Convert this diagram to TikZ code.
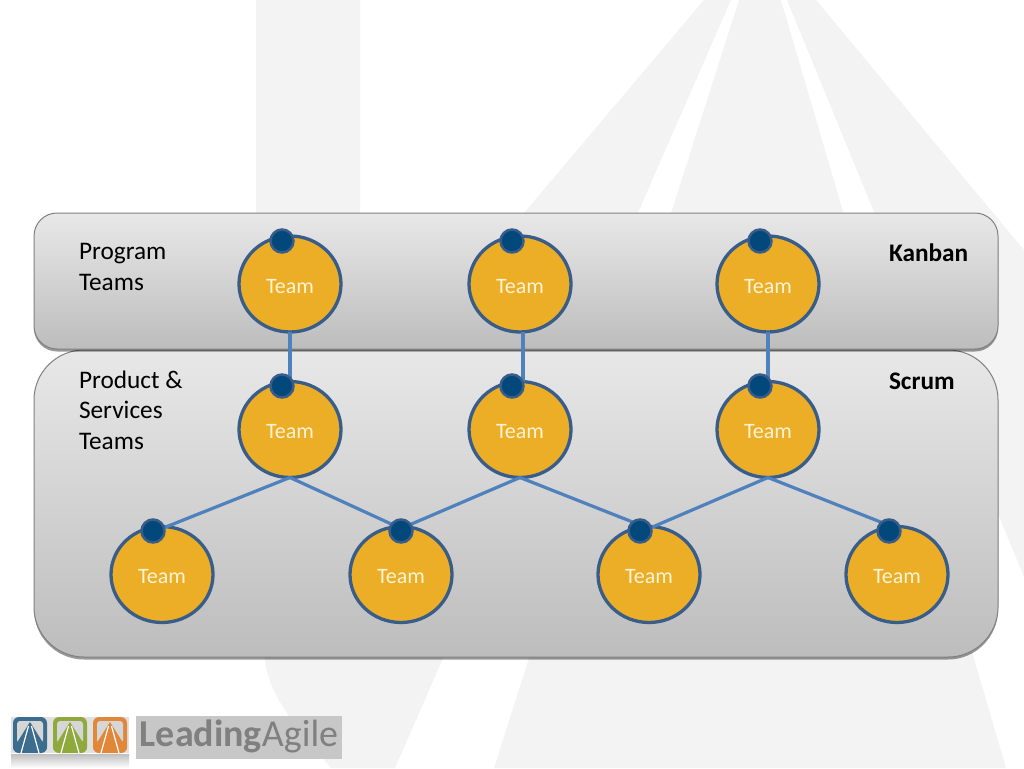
\documentclass[tikz,border=0pt]{standalone}
\usepackage{fontspec}
\setmainfont{Carlito}
\usetikzlibrary{
  positioning,
  shapes.geometric,
  shadows
}
\definecolor{roadgray}{RGB}{243,243,243}
\definecolor{teamfill}{RGB}{235,174,38}
\definecolor{teamline}{RGB}{56,93,138}
\definecolor{dotfill}{RGB}{2,72,122}
\definecolor{linkblue}{RGB}{79,129,189}
\definecolor{teamtext}{RGB}{253,243,214}
\definecolor{logotext}{RGB}{128,128,128}
\definecolor{logoblue}{RGB}{60,109,142}
\definecolor{logogreen}{RGB}{143,169,60}
\definecolor{logoorange}{RGB}{224,135,58}

\begin{document}
\begin{tikzpicture}[
  x=1pt, y=-1pt,
  every node/.style={inner sep=0, outer sep=0},
  panel/.style={draw=black!50, line width=1pt, top color=black!9, bottom color=black!26,
                drop shadow={shadow xshift=0pt, shadow yshift=-2.5pt, opacity=0.4, fill=black},
                minimum width=964pt},
  team/.style={ellipse, draw=teamline, line width=3.3pt, fill=teamfill, text=teamtext,
               minimum width=102pt, minimum height=96pt, text height=20pt, text depth=2pt,
               font=\fontsize{22}{22}\selectfont},
  dot/.style={circle, draw=teamline, line width=2.5pt, fill=dotfill, minimum size=23pt},
  link/.style={draw=linkblue, line width=3.2pt},
  label/.style={anchor=west, align=left, font=\fontsize{25.3}{30.6}\selectfont},
  tag/.style={anchor=west, font=\fontsize{25.3}{25}\selectfont\bfseries}
]
\useasboundingbox (0,0) rectangle (1024,768);
\fill[white] (0,0) rectangle (1024,768);

% Background roads
\fill[roadgray] (256,0) -- (360,0) -- (360,407) -- (704,0) -- (731,0) -- (395,768) -- (331,768)
  .. controls (300,730) and (270,700) .. (265,660) -- (256,590) -- cycle;
\fill[roadgray] (739,0) -- (781,0) -- (1006,768) -- (494,768) -- cycle;
\fill[roadgray] (787,0) -- (816,0) -- (1024,250) -- (1024,577) -- cycle;

% Panels
\node[panel, rounded corners=50pt, minimum height=307pt] (scrumpanel) at (516,503.5) {};
\node[panel, rounded corners=23pt, minimum height=136pt] (kanbanpanel) at (516,281) {};

% Panel labels
\node[label] (programlabel) at (79,267) {Program\\Teams};
\node[label] (productlabel) at (79,410) {Product \&\\Services\\Teams};
\node[tag] (kanbanlabel) at (889,252.5) {Kanban};
\node[tag] (scrumlabel) at (889,381.5) {Scrum};

% Team circles
\foreach \n/\x in {1/290, 2/520, 3/768} {
  \node[team] (top\n) at (\x,284) {Team};
  \node[team] (mid\n) at (\x,429.5) {Team};
}
\foreach \n/\x in {1/162, 2/401, 3/649, 4/897} {
  \node[team] (low\n) at (\x,574.5) {Team};
}

% Links
\draw[link] (top1.south) -- (mid1.north);
\draw[link] ([xshift=3pt]top2.south) -- ([xshift=3pt]mid2.north);
\draw[link] (top3.south) -- (mid3.north);
\foreach \a/\b in {1/1, 1/2, 2/2, 2/3, 3/3, 3/4} {
  \draw[link] (mid\a.south) -- ([yshift=-2pt]low\b.north);
}

% Dots
\foreach \n/\x in {1/282, 2/512, 3/760} {
  \node[dot] (topdot\n) at (\x,241) {};
  \node[dot] (middot\n) at (\x,386) {};
}
\foreach \n/\x in {1/153, 2/401, 3/640, 4/889} {
  \node[dot] (lowdot\n) at (\x,531) {};
}

% Logo
\fill[black!12] (11,717) rectangle (129,753);
\shade[top color=black!25, bottom color=white] (11,754) rectangle (129,768);
\foreach \x/\c in {13/logoblue, 53/logogreen, 93/logoorange} {
  \fill[\c, rounded corners=6pt] (\x,717) rectangle ++(34,36);
  \fill[black!16, rounded corners=3pt] (\x+4,721) rectangle ++(26,22);
  \fill[\c] (\x+17,722) -- (\x+34,749) -- (\x,749) -- cycle;
  \draw[white, line width=1.2pt] (\x+15.5,726) -- (\x+8,753) (\x+18.5,726) -- (\x+26,753);
}
\node[fill=black!22, minimum width=206pt, minimum height=43pt] (logobox) at (239,737.5) {};
\node[text=logotext, font=\fontsize{38}{38}\selectfont] (logotxt) at (239,736) {\textbf{Leading}Agile};
\end{tikzpicture}
\end{document}
